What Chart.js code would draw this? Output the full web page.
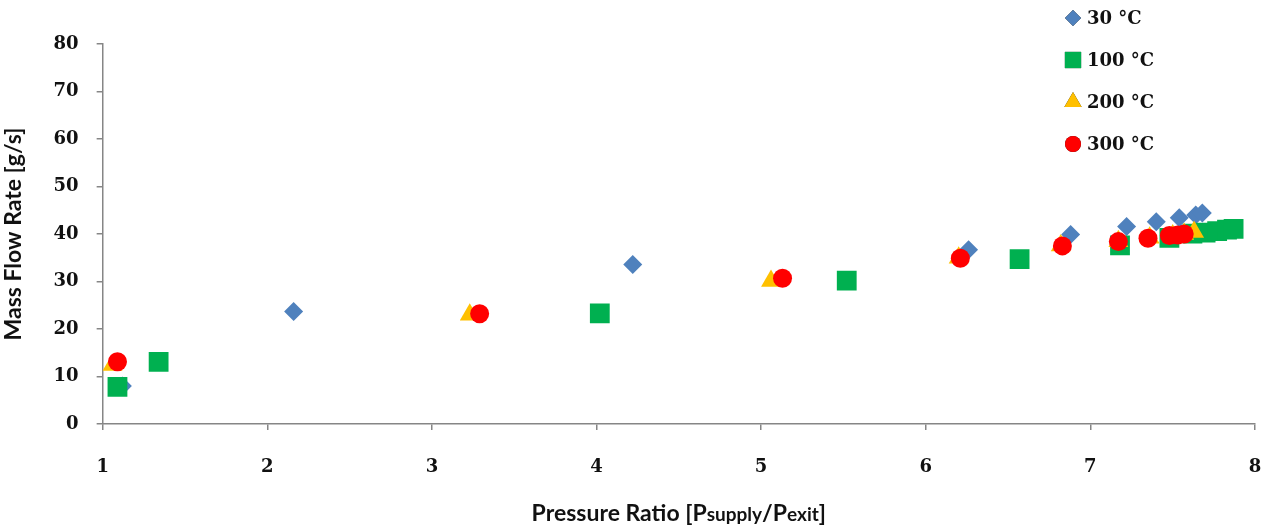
<!DOCTYPE html>
<html>
<head>
<meta charset="utf-8">
<script src="https://cdn.jsdelivr.net/npm/chart.js@4.4.1/dist/chart.umd.min.js"></script>
<style>
  html, body { margin: 0; padding: 0; background: #ffffff; overflow: hidden; }
  #wrap { width: 1272px; height: 529px; position: relative; }
  canvas { display: block; }
</style>
</head>
<body>
<div id="wrap"><canvas id="massFlowChart"></canvas></div>
<script>
const seriesLabels = ["30 °C", "100 °C", "200 °C", "300 °C"];

const x30 = [1.12, 2.16, 4.22, 6.26, 6.88, 7.22, 7.40, 7.54, 7.64, 7.68];
const y30 = [8.0, 23.7, 33.6, 36.7, 39.9, 41.6, 42.6, 43.4, 44.0, 44.4];

const x100 = [1.09, 1.34, 4.02, 5.52, 6.57, 7.18, 7.48, 7.62, 7.70, 7.77, 7.83, 7.87];
const y100 = [7.8, 13.1, 23.3, 30.2, 34.7, 37.6, 39.2, 40.1, 40.3, 40.6, 40.9, 41.1];

const x200 = [1.06, 3.23, 5.06, 6.20, 6.82, 7.17, 7.36, 7.50, 7.57, 7.63];
const y200 = [12.4, 23.0, 30.1, 35.0, 37.6, 38.5, 39.2, 39.7, 40.0, 40.4];

const x300 = [1.09, 3.29, 5.13, 6.21, 6.83, 7.17, 7.35, 7.48, 7.53, 7.57];
const y300 = [13.1, 23.2, 30.7, 34.9, 37.5, 38.4, 39.1, 39.7, 39.8, 40.0];

const xTicks = [1, 2, 3, 4, 5, 6, 7, 8];
const yTicks = [0, 10, 20, 30, 40, 50, 60, 70, 80];

function toPoints(xs, ys) {
  return xs.map((x, i) => ({ x: x, y: ys[i] }));
}

const titleFont = "Lato, 'Open Sans', sans-serif";
const serifFont = "'DejaVu Serif', serif";
const tickFont = { family: serifFont, size: 18, weight: "bold" };
const axisGray = "#868686";

// legend in the top right corner, one item per row
const sideLegend = {
  id: "sideLegend",
  afterDraw(chart) {
    const ctx = chart.ctx;
    ctx.save();
    chart.data.datasets.forEach((ds, i) => {
      const y = 18 + i * 42;
      Chart.helpers.drawPoint(ctx, {
        pointStyle: ds.pointStyle,
        radius: ds.legendRadius,
        rotation: 0,
        borderWidth: 0,
      }, 1073, y);
      ctx.fillStyle = ds.backgroundColor;
      ctx.fill();
      ctx.fillStyle = "#111";
      ctx.font = "bold 18px " + serifFont;
      ctx.textBaseline = "middle";
      ctx.textAlign = "left";
      ctx.fillText(ds.label, 1087, y + 1);
    });
    ctx.restore();
  },
};

// x title with small "supply" / "exit" parts
const xTitle = {
  id: "xTitle",
  afterDraw(chart) {
    const ctx = chart.ctx;
    const parts = [
      ["Pressure Ratio [P", 23],
      ["supply", 19],
      ["/P", 23],
      ["exit", 19],
      ["]", 23],
    ];
    ctx.save();
    ctx.fillStyle = "#111";
    ctx.textBaseline = "alphabetic";
    let total = 0;
    parts.forEach((p) => {
      ctx.font = "bold " + p[1] + "px " + titleFont;
      total += ctx.measureText(p[0]).width;
    });
    const area = chart.chartArea;
    let x = (area.left + area.right) / 2 - total / 2;
    parts.forEach((p) => {
      ctx.font = "bold " + p[1] + "px " + titleFont;
      ctx.textAlign = "left";
      ctx.fillText(p[0], x, 521);
      x += ctx.measureText(p[0]).width;
    });
    ctx.restore();
  },
};

new Chart(document.getElementById("massFlowChart"), {
  type: "scatter",
  data: {
    datasets: [
      {
        label: seriesLabels[0],
        data: toPoints(x30, y30),
        pointStyle: "rectRot",
        pointRadius: 9.5,
        legendRadius: 8,
        backgroundColor: "#4f81bd",
        borderWidth: 0,
        order: 4,
      },
      {
        label: seriesLabels[1],
        data: toPoints(x100, y100),
        pointStyle: "rect",
        pointRadius: 14,
        legendRadius: 11.5,
        backgroundColor: "#00b050",
        borderWidth: 0,
        order: 3,
      },
      {
        label: seriesLabels[2],
        data: toPoints(x200, y200),
        pointStyle: "triangle",
        pointRadius: 11.5,
        legendRadius: 10,
        backgroundColor: "#ffc000",
        borderWidth: 0,
        order: 2,
      },
      {
        label: seriesLabels[3],
        data: toPoints(x300, y300),
        pointStyle: "circle",
        pointRadius: 9.5,
        legendRadius: 8,
        backgroundColor: "#ff0000",
        borderWidth: 0,
        order: 1,
      },
    ],
  },
  options: {
    responsive: true,
    maintainAspectRatio: false,
    animation: false,
    layout: {
      autoPadding: false,
      padding: { top: 44, right: 17, left: 0, bottom: 0 },
    },
    plugins: {
      legend: { display: false },
      tooltip: { enabled: false },
    },
    elements: {
      point: { hoverRadius: 0 },
    },
    scales: {
      x: {
        type: "linear",
        min: xTicks[0],
        max: xTicks[xTicks.length - 1],
        afterBuildTicks(scale) {
          scale.ticks = xTicks.map((v) => ({ value: v }));
        },
        afterFit(scale) {
          // tick padding would otherwise widen the side margins too
          scale.height = 105;
          scale.paddingLeft = 0;
          scale.paddingRight = 17;
        },
        grid: {
          drawOnChartArea: false,
          drawTicks: true,
          tickLength: 6,
          color: axisGray,
          lineWidth: 1.5,
        },
        border: { display: true, color: axisGray, width: 1.5 },
        ticks: {
          color: "#111",
          font: tickFont,
          padding: 27,
          maxRotation: 0,
        },
      },
      y: {
        type: "linear",
        min: yTicks[0],
        max: yTicks[yTicks.length - 1],
        afterBuildTicks(scale) {
          scale.ticks = yTicks.map((v) => ({ value: v }));
        },
        grid: {
          drawOnChartArea: false,
          drawTicks: true,
          tickLength: 6,
          color: axisGray,
          lineWidth: 1.5,
        },
        border: { display: true, color: axisGray, width: 1.5 },
        ticks: {
          color: "#111",
          font: tickFont,
          padding: 18,
        },
        title: {
          display: true,
          text: "Mass Flow Rate [g/s]",
          color: "#111",
          font: { family: titleFont, size: 23, weight: "bold" },
          padding: { top: 0, bottom: 8 },
        },
      },
    },
  },
  plugins: [sideLegend, xTitle],
});
</script>
</body>
</html>
